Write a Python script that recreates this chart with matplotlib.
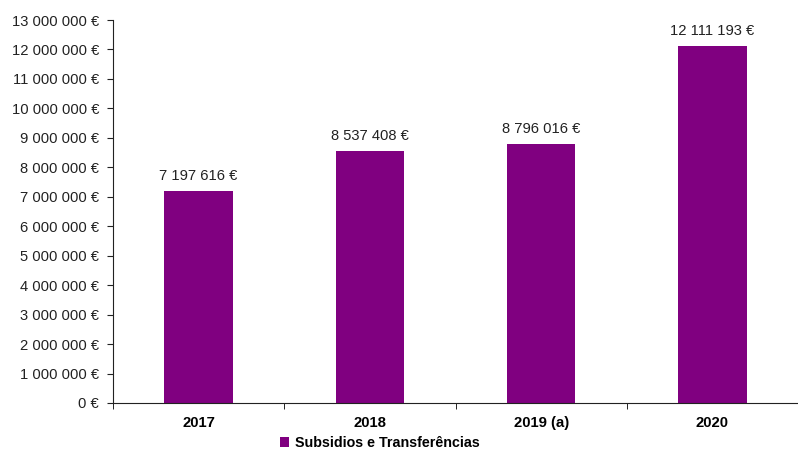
import matplotlib
matplotlib.use("Agg")
import matplotlib.pyplot as plt
from matplotlib.ticker import FuncFormatter, FixedLocator
from matplotlib.patches import Patch

categories = ["2017", "2018", "2019 (a)", "2020"]
values = [7197616, 8537408, 8796016, 12111193]
series_name = "Subsidios e Transferências"
color = "#800080"

plt.rcParams['font.family'] = ['Liberation Sans', 'DejaVu Sans']

def fmt(v):
    return "{:,}".format(int(round(v))).replace(",", " ") + " €"

fig = plt.figure(figsize=(7.98, 4.5), dpi=100)
ax = fig.add_axes([113/798, 47/450, (798-113)/798, (403-20)/450])

x = list(range(len(categories)))
bars = ax.bar(x, values, width=0.4, color=color)
ax.set_xlim(-0.5, len(categories) - 0.5)
ax.set_ylim(0, 13000000)
ax.set_yticks([i * 1000000 for i in range(14)])
ax.yaxis.set_major_formatter(FuncFormatter(lambda v, p: fmt(v)))
ax.set_xticks(x)
ax.set_xticklabels(categories, fontweight='bold', fontsize=10.7, va='baseline')
ax.tick_params(axis='x', which='major', length=0, pad=17.5)
ax.xaxis.set_minor_locator(FixedLocator([i - 0.5 for i in range(len(categories))]))
ax.tick_params(axis='x', which='minor', length=4, direction='out')
ax.tick_params(axis='y', length=4, direction='out', labelsize=10.6, pad=6,
               colors='#222222', labelcolor='#222222')
for s in ['top', 'right']:
    ax.spines[s].set_visible(False)
for s in ['left', 'bottom']:
    ax.spines[s].set_color('#222222')

for xi, v in zip(x, values):
    ax.annotate(fmt(v), (xi, v), xytext=(0, 6), textcoords='offset points',
                ha='center', va='bottom', fontsize=10.6, color='#222222')

handle = Patch(facecolor=color, edgecolor='none')
fig.legend([handle], [series_name], loc='center', bbox_to_anchor=(380/798, 1 - 443/450),
           frameon=False, prop={'weight': 'bold', 'size': 10.3},
           handlelength=0.65, handleheight=0.65, handletextpad=0.4)

fig.savefig("out.png", dpi=100)
